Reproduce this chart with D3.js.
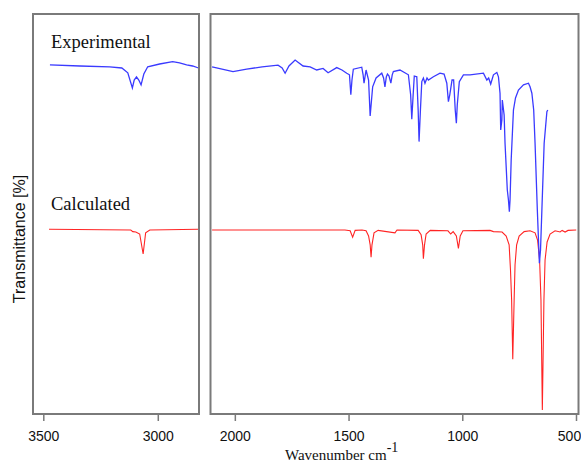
<!DOCTYPE html>
<html>
<head>
<meta charset="utf-8">
<script src="https://cdn.jsdelivr.net/npm/d3@7"></script>
<style>
  body { margin: 0; background: #fff; }
  svg { display: block; }
</style>
</head>
<body>
<svg id="chart"></svg>
<script>
// Experimental spectrum (wavenumber cm-1, transmittance as plotted)
const expWn = [3471, 3340, 3210, 3157, 3131, 3111, 3103, 3093, 3083, 3073, 3061, 3044, 2992, 2935, 2905, 2874, 2848, 2822,
  2100, 2008, 1948, 1880, 1810, 1792, 1779, 1762, 1735, 1700, 1669, 1640, 1612, 1590, 1552, 1529, 1508, 1496, 1490, 1485,
  1479, 1442, 1436, 1432, 1423, 1412, 1405, 1399, 1394, 1379, 1354, 1346, 1340, 1334, 1329, 1322, 1314, 1308, 1303, 1274,
  1237, 1227, 1222, 1216, 1211, 1200, 1194, 1190, 1184, 1178, 1171, 1164, 1155, 1149, 1127, 1098, 1080, 1068, 1061, 1055,
  1045, 1038, 1031, 1026, 1022, 1013, 995, 966, 907, 892, 884, 875, 863, 848, 841, 834, 831, 826, 824, 816, 812, 802, 797,
  793, 790, 785, 775, 766, 753, 731, 709, 702, 694, 686, 680, 670, 661, 656, 650, 640, 628, 624];
const expT = [87.3, 87.0, 86.8, 86.5, 85.3, 81.5, 83.5, 84.3, 83.5, 82.3, 85.0, 86.8, 87.5, 88.1, 87.8, 87.3, 87.0, 86.5,
  86.8, 85.6, 86.2, 86.8, 87.2, 86.5, 85.2, 87.0, 88.5, 87.0, 86.8, 86.0, 86.4, 85.3, 86.6, 86.0, 85.2, 84.8, 79.8, 83.5,
  86.2, 86.7, 84.8, 82.7, 86.0, 83.5, 74.5, 78.5, 81.8, 84.0, 85.2, 84.0, 81.8, 84.3, 85.0, 84.5, 82.7, 84.8, 85.6, 86.0,
  84.8, 79.8, 73.7, 79.8, 84.5, 84.3, 76.0, 68.1, 76.0, 83.1, 84.0, 82.7, 84.0, 83.5, 84.3, 85.2, 85.0, 82.7, 78.1, 79.8,
  83.5, 83.5, 76.0, 72.7, 77.3, 83.1, 84.8, 84.8, 85.2, 83.5, 84.0, 82.5, 84.8, 85.4, 84.3, 80.2, 71.0, 73.5, 78.5, 74.8,
  67.7, 56.0, 53.5, 50.6, 53.5, 63.5, 76.0, 79.0, 81.0, 82.3, 82.7, 81.8, 80.2, 76.0, 67.7, 51.0, 37.7, 41.0, 51.0, 67.7,
  75.6, 76.0];

// Calculated spectrum
const calcWn = [3475, 3118, 3109, 3096, 3079, 3064, 3053, 3035, 2822,
  2100, 1516, 1493, 1482, 1471, 1441, 1423, 1412, 1405, 1401, 1397, 1388, 1370, 1296, 1287, 1194, 1181, 1174, 1171, 1166,
  1159, 1141, 1063, 1051, 1040, 1026, 1017, 1009, 997, 878, 863, 825, 807, 794, 788, 783, 778, 772, 768, 761, 750, 728,
  702, 680, 669, 660, 654, 648, 641, 636, 627, 614, 592, 570, 561, 548, 535, 499];
const calcT = [46.2, 46.0, 45.6, 45.5, 45.0, 40.0, 45.3, 46.0, 46.2,
  46.0, 46.0, 45.8, 44.2, 45.9, 46.0, 45.8, 44.5, 42.3, 39.2, 42.3, 45.3, 45.9, 45.3, 46.0, 45.9, 44.8, 42.3, 38.8, 42.3,
  45.0, 45.9, 45.8, 45.0, 45.6, 44.5, 41.4, 44.5, 45.8, 45.9, 45.6, 45.5, 44.5, 42.3, 36.0, 28.5, 13.7, 28.5, 37.3, 42.3,
  44.5, 45.6, 45.8, 45.3, 43.5, 38.5, 28.5, 1.0, 28.5, 38.5, 43.0, 45.0, 45.8, 45.5, 45.9, 45.5, 45.9, 46.0];

// Broken x axis: two panels
const panelDomains = [[3545, 2820], [2107, 489]];
const panelTicks = [[3500, 3000], [2000, 1500, 1000, 500]];
const seriesLabels = ["Experimental", "Calculated"];

const width = 581, height = 464,
  plotTop = 14, plotBottom = 414,
  panelRanges = [[33, 199], [210.5, 578.5]],
  frameColor = "#7a7a7a";

const svg = d3.select("#chart").attr("width", width).attr("height", height);

const y = d3.scaleLinear().domain([0, 100]).range([plotBottom, plotTop]);

const expData = expWn.map((w, i) => ({ w: w, t: expT[i] }));
const calcData = calcWn.map((w, i) => ({ w: w, t: calcT[i] }));

panelDomains.forEach((dom, p) => {
  const r = panelRanges[p];
  const x = d3.scaleLinear().domain(dom).range(r);
  const inPanel = d => d.w <= dom[0] && d.w >= dom[1];

  svg.append("clipPath").attr("id", "clip" + p)
    .append("rect").attr("x", r[0]).attr("y", plotTop).attr("width", r[1] - r[0]).attr("height", plotBottom - plotTop);

  const line = d3.line().x(d => x(d.w)).y(d => y(d.t));

  const g = svg.append("g").attr("clip-path", "url(#clip" + p + ")");
  g.append("path").datum(calcData.filter(inPanel))
    .attr("d", line).attr("fill", "none").attr("stroke", "#ff2424").attr("stroke-width", 1.1);
  g.append("path").datum(expData.filter(inPanel))
    .attr("d", line).attr("fill", "none").attr("stroke", "#3a3aff").attr("stroke-width", 1.3);

  // frame
  svg.append("rect")
    .attr("x", r[0]).attr("y", plotTop)
    .attr("width", r[1] - r[0]).attr("height", plotBottom - plotTop)
    .attr("fill", "none").attr("stroke", frameColor).attr("stroke-width", 2);

  // bottom axis
  const axis = d3.axisBottom(x).tickValues(panelTicks[p]).tickFormat(d3.format("d"))
    .tickSize(6).tickPadding(10).tickSizeOuter(0);
  const ag = svg.append("g").attr("transform", "translate(0," + (plotBottom + 1) + ")").call(axis);
  ag.select(".domain").remove();
  ag.selectAll(".tick line").attr("stroke", frameColor).attr("stroke-width", 1.5);
  ag.selectAll(".tick text")
    .attr("fill", "#111")
    .style("font-family", "'Liberation Sans', Arial, sans-serif")
    .style("font-size", "14px");
  // last label sits against the right edge
  ag.selectAll(".tick text").filter(d => d === 500).attr("dx", -7);
});

// series labels
svg.append("text").attr("x", 51).attr("y", 47.5).text(seriesLabels[0])
  .style("font-family", "'Liberation Serif', 'Times New Roman', serif").style("font-size", "18.5px").attr("fill", "#111");
svg.append("text").attr("x", 51).attr("y", 210).text(seriesLabels[1])
  .style("font-family", "'Liberation Serif', 'Times New Roman', serif").style("font-size", "18.5px").attr("fill", "#111");

// y label
svg.append("text")
  .attr("transform", "translate(25,239) rotate(-90)")
  .attr("text-anchor", "middle")
  .style("font-family", "'Liberation Sans', Arial, sans-serif")
  .style("font-size", "16px")
  .attr("fill", "#111")
  .text("Transmittance [%]");

// x label
const xl = svg.append("text")
  .attr("x", 285).attr("y", 460)
  .style("font-family", "'Liberation Serif', 'Times New Roman', serif")
  .style("font-size", "15px")
  .attr("fill", "#111");
xl.append("tspan").text("Wavenumber cm");
xl.append("tspan").attr("dy", -8).style("font-size", "14px").text("-1");
</script>
</body>
</html>
